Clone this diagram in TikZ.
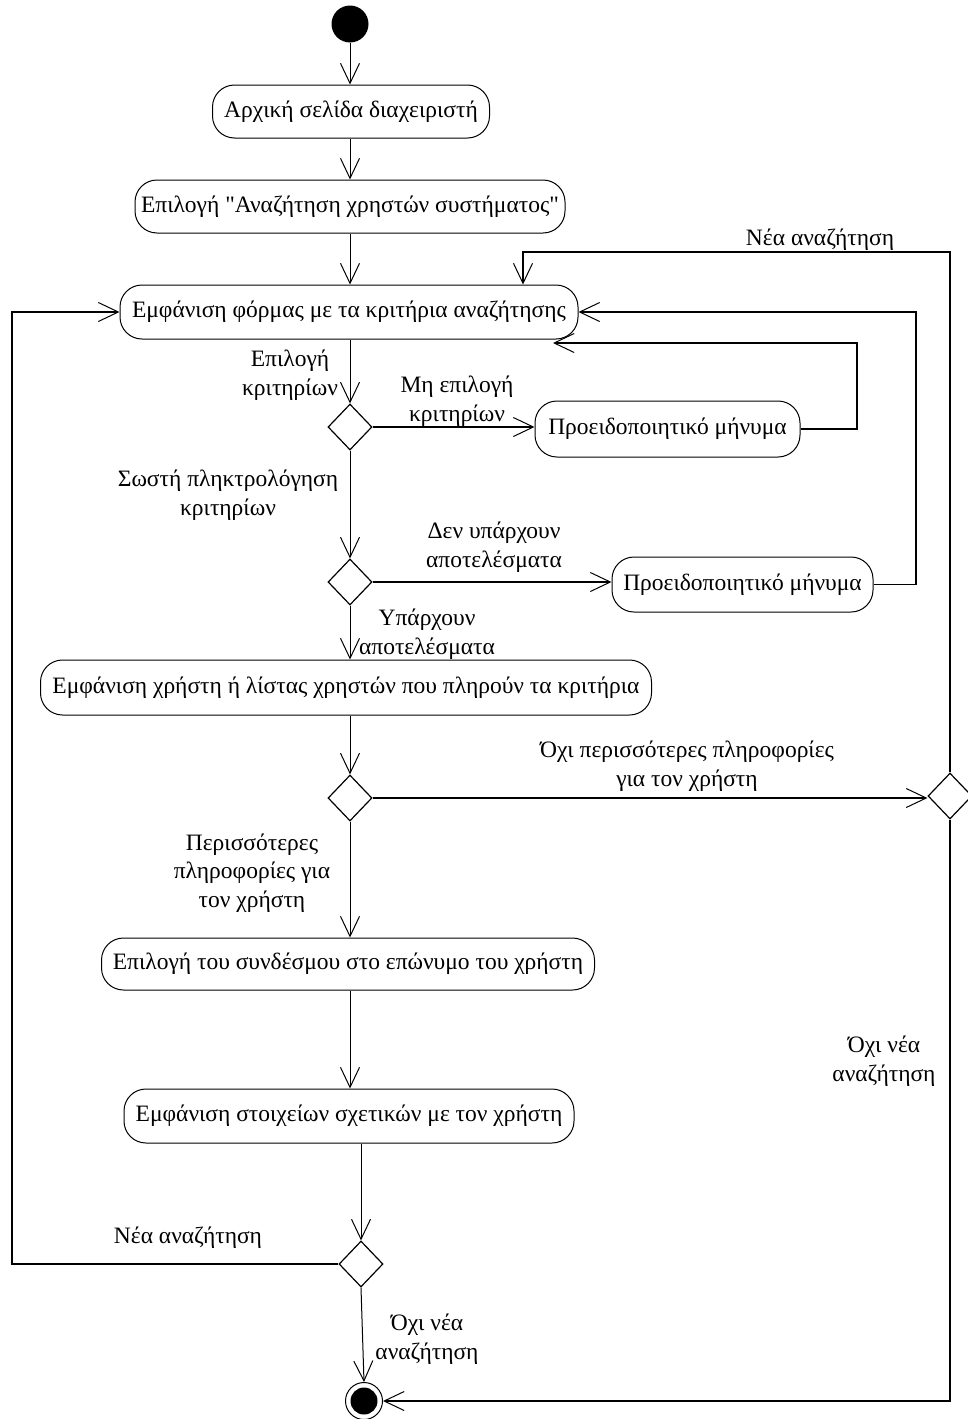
\documentclass[tikz,border=0pt]{standalone}
\usepackage{fontspec}
\setmainfont{Liberation Serif}[Ligatures=TeXOff]
\usetikzlibrary{arrows.meta,shapes.geometric,calc}

\tikzset{
  txt/.style={font=\fontsize{23.5}{28.5}\selectfont},
  act/.style={draw, line width=1pt, rounded corners=22pt, fill=white,
    minimum height=53pt, inner sep=0pt, txt},
  dec/.style={draw, diamond, line width=1.2pt, fill=white,
    minimum width=44pt, minimum height=46pt, inner sep=0pt},
  lbl/.style={align=center, inner sep=0pt, txt},
  flow/.style={line width=1pt, -{Straight Barb[length=20pt,width=19pt,line width=1pt]}},
  back/.style={flow, line width=1.4pt}
}

\begin{document}
\begin{tikzpicture}[x=1pt,y=-1pt]
\useasboundingbox (0,0) rectangle (968,1419);

% start and end states
\node[circle, fill=black, minimum size=37pt, inner sep=0pt] (start) at (350,24) {};
\node[circle, draw, line width=1pt, fill=white, minimum size=37pt, inner sep=0pt] (end) at (364,1401) {};
\fill (end) circle (13.5pt);

% activities
\node[act, minimum width=277pt] (a1) at (351,111.5) {Αρχική σελίδα διαχειριστή};
\node[act, minimum width=430pt] (a2) at (350,206.5) {Επιλογή "Αναζήτηση χρηστών συστήματος"};
\node[act, minimum width=458pt, minimum height=54pt] (a3) at (349,312) {Εμφάνιση φόρμας με τα κριτήρια αναζήτησης};
\node[act, minimum width=265pt, minimum height=56pt] (p1) at (667.5,429) {Προειδοποιητικό μήνυμα};
\node[act, minimum width=261pt, minimum height=55pt] (p2) at (742.5,584.5) {Προειδοποιητικό μήνυμα};
\node[act, minimum width=611pt, minimum height=55pt] (a4) at (346,687.5) {Εμφάνιση χρήστη ή λίστας χρηστών που πληρούν τα κριτήρια};
\node[act, minimum width=493pt, minimum height=52pt] (a5) at (348,964) {Επιλογή του συνδέσμου στο επώνυμο του χρήστη};
\node[act, minimum width=450pt, minimum height=54pt] (a6) at (349,1116) {Εμφάνιση στοιχείων σχετικών με τον χρήστη};

% decisions
\node[dec] (d1) at (350,427) {};
\node[dec] (d2) at (350,582) {};
\node[dec] (d3) at (350,798) {};
\node[dec] (dr) at (950,796) {};
\node[dec] (d4) at (361,1264) {};

% bend points of the return paths
\coordinate (tn) at (523,252);
\coordinate (lx) at (12,1264);
\coordinate (rx1) at (857,429);
\coordinate (tp1) at (553,343);
\coordinate (rx2) at (916,584.5);

% main flow
\draw[flow] (start) -- (start |- a1.north);
\draw[flow] (a1.south -| start) -- (start |- a2.north);
\draw[flow] (a2.south -| start) -- (start |- a3.north);
\draw[flow] (a3.south -| d1) -- (d1.north);
\draw[back] (d1.east) -- (d1.east -| p1.west);
\draw[flow] (d1.south) -- (d2.north);
\draw[back] (d2.east) -- (d2.east -| p2.west);
\draw[flow] (d2.south) -- (d2.south |- a4.north);
\draw[flow] (a4.south -| d3) -- (d3.north);
\draw[back] (d3.east) -- (d3.east -| dr.west);
\draw[flow] (d3.south) -- (d3.south |- a5.north);
\draw[flow] (a5.south -| d3) -- (d3 |- a6.north);
\draw[flow] (a6.south -| d4) -- (d4.north);
\draw[flow] (d4.south) -- (end.north);

% return paths
\draw[back] (dr.north) |- (tn) -- (tn |- a3.north);
\draw[back] (dr.south) |- (end.east);
\draw[back] (d4.west) -- (lx) |- (a3.west);
\draw[back] (p1.east) -- (rx1) |- (tp1);
\draw[back] (p2.east) -- (rx2) |- (a3.east);

% guards
\node[lbl] (g1) at (820,240) {Νέα αναζήτηση};
\node[lbl] (g2) at (290,375) {Επιλογή\\κριτηρίων};
\node[lbl] (g3) at (457,401) {Μη επιλογή\\κριτηρίων};
\node[lbl] (g4) at (228,495) {Σωστή πληκτρολόγηση\\κριτηρίων};
\node[lbl] (g5) at (494,547) {Δεν υπάρχουν\\αποτελέσματα};
\node[lbl] (g6) at (427,634) {Υπάρχουν\\αποτελέσματα};
\node[lbl] (g7) at (687,766) {Όχι περισσότερες πληροφορίες\\για τον χρήστη};
\node[lbl] (g8) at (252,873) {Περισσότερες\\πληροφορίες για\\τον χρήστη};
\node[lbl] (g9) at (884,1061) {Όχι νέα\\αναζήτηση};
\node[lbl] (g10) at (188,1238) {Νέα αναζήτηση};
\node[lbl] (g11) at (427,1339) {Όχι νέα\\αναζήτηση};
\end{tikzpicture}
\end{document}
